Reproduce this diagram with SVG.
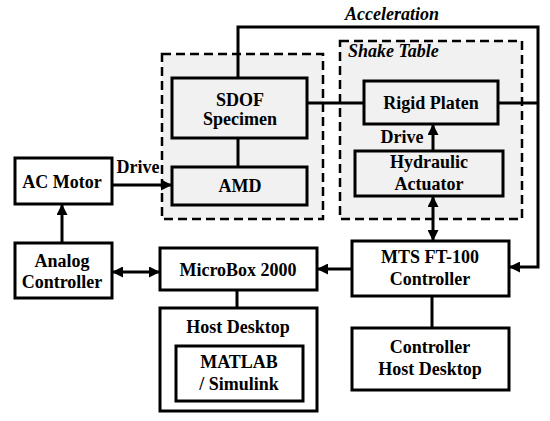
<svg xmlns="http://www.w3.org/2000/svg" width="550" height="421" viewBox="0 0 550 421">
<defs>
<style>
.box{fill:#fff;stroke:#000;stroke-width:3}
.gbox{fill:#f1f1f1;stroke:#000;stroke-width:3}
.dash{fill:#f1f1f1;stroke:#000;stroke-width:2.5;stroke-dasharray:9,5}
.ln{fill:none;stroke:#000;stroke-width:3}
text{font-family:"Liberation Serif","Times New Roman",serif;font-weight:bold;font-size:18px;fill:#000;text-anchor:middle}
.it{font-style:italic;text-anchor:start}
</style>
<marker id="ah" viewBox="0 0 10 10" refX="10" refY="5" markerWidth="11" markerHeight="11" markerUnits="userSpaceOnUse" orient="auto-start-reverse">
<path d="M0,0 L10,5 L0,10 z" fill="#000"/>
</marker>
</defs>
<rect width="550" height="421" fill="#fff"/>
<g id="amd-group"><rect class="dash" x="162" y="54" width="161" height="165"/></g>
<g id="shake-table"><rect class="dash" x="340" y="41" width="182" height="178"/><text class="it" x="348" y="57">Shake Table</text></g>
<g id="connectors">
<path class="ln" d="M238,78 V27 H538 V267 H509" marker-end="url(#ah)"/>
<path class="ln" d="M498,103 H538"/>
<path class="ln" d="M307,103 H364"/>
<path class="ln" d="M238,138 V167"/>
<path class="ln" d="M112,185 H172" marker-end="url(#ah)"/>
<path class="ln" d="M62,243 V204" marker-end="url(#ah)"/>
<path class="ln" d="M112,272 H160" marker-start="url(#ah)" marker-end="url(#ah)"/>
<path class="ln" d="M352,269 H317" marker-end="url(#ah)"/>
<path class="ln" d="M433,151 V124" marker-end="url(#ah)"/>
<path class="ln" d="M433,196 V241" marker-start="url(#ah)" marker-end="url(#ah)"/>
<path class="ln" d="M237,290 V308"/>
<path class="ln" d="M432,296 V328"/>
<text class="it" x="345" y="20">Acceleration</text>
<text x="138" y="173">Drive</text>
<text x="402" y="143">Drive</text>
</g>
<g id="sdof"><rect class="gbox" x="172" y="78" width="135" height="60"/><text x="240" y="106">SDOF</text><text x="240" y="125">Specimen</text></g>
<g id="amd"><rect class="gbox" x="172" y="167" width="135" height="38"/><text x="240" y="192">AMD</text></g>
<g id="rigid-platen"><rect class="gbox" x="364" y="81" width="134" height="43"/><text x="431" y="109">Rigid Platen</text></g>
<g id="hydraulic"><rect class="gbox" x="355" y="151" width="148" height="45"/><text x="429" y="168">Hydraulic</text><text x="429" y="190">Actuator</text></g>
<g id="ac-motor"><rect class="box" x="15" y="158" width="97" height="46"/><text x="62" y="188">AC Motor</text></g>
<g id="analog"><rect class="box" x="15" y="243" width="97" height="55"/><text x="62" y="267">Analog</text><text x="62" y="288">Controller</text></g>
<g id="microbox"><rect class="box" x="160" y="248" width="157" height="42"/><text x="238" y="276">MicroBox 2000</text></g>
<g id="mts"><rect class="box" x="352" y="241" width="157" height="55"/><text x="430" y="263">MTS FT-100</text><text x="430" y="285">Controller</text></g>
<g id="host-desktop"><rect class="box" x="160" y="308" width="157" height="103"/><text x="238" y="333">Host Desktop</text></g>
<g id="matlab"><rect class="box" x="176" y="346" width="127" height="55"/><text x="239" y="368">MATLAB</text><text x="239" y="390">/ Simulink</text></g>
<g id="controller-host"><rect class="box" x="352" y="328" width="157" height="62"/><text x="430" y="353">Controller</text><text x="430" y="375">Host Desktop</text></g>
</svg>
